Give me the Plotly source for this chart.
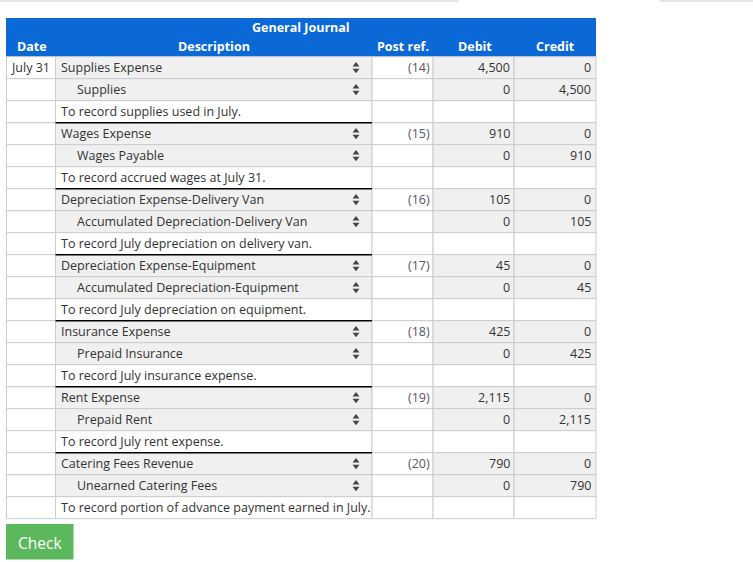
import plotly.graph_objects as go

# ---------------- data ----------------
date_label = "July 31"
debit_accounts = ["Supplies Expense", "Wages Expense", "Depreciation Expense-Delivery Van",
                  "Depreciation Expense-Equipment", "Insurance Expense", "Rent Expense",
                  "Catering Fees Revenue"]
credit_accounts = ["Supplies", "Wages Payable", "Accumulated Depreciation-Delivery Van",
                   "Accumulated Depreciation-Equipment", "Prepaid Insurance", "Prepaid Rent",
                   "Unearned Catering Fees"]
explanations = ["To record supplies used in July.", "To record accrued wages at July 31.",
                "To record July depreciation on delivery van.",
                "To record July depreciation on equipment.",
                "To record July insurance expense.", "To record July rent expense.",
                "To record portion of advance payment earned in July."]
post_refs = ["(14)", "(15)", "(16)", "(17)", "(18)", "(19)", "(20)"]
amounts = [4500, 910, 105, 45, 425, 2115, 790]
header_cols = ["Date", "Description", "Post ref.", "Debit", "Credit"]
title = "General Journal"
button_label = "Check"

# ---------------- layout helpers ----------------
W, H = 753, 562
col_edges = [6.5, 55.5, 372, 433, 514, 596]
header_top, header_bot = 18, 56.7
row_h = 22.0
FONT = "Open Sans, Noto Sans, sans-serif"
FS = 12.5
BLUE = "#0B68D7"
GREY_BG = "#F0F0F0"
BORDER = "#CCCCCC"
TEXT = "#333333"

shapes = []
annotations = []


def rect(x0, y0, x1, y1, fill, line=BORDER, lw=1):
    shapes.append(dict(type="rect", xref="x", yref="y", x0=x0, y0=y0, x1=x1, y1=y1,
                       fillcolor=fill, line=dict(color=line, width=lw), layer="below"))


def text(x, y, s, anchor="left", size=FS, color=TEXT, bold=False):
    annotations.append(dict(x=x, y=y, xref="x", yref="y", text=(f"<b>{s}</b>" if bold else s),
                            showarrow=False, xanchor=anchor, yanchor="middle",
                            font=dict(family=FONT, size=size, color=color)))


# top faint edges of input boxes
shapes.append(dict(type="line", x0=0, x1=459, y0=1, y1=1, line=dict(color="#DDDDDD", width=1.5)))
shapes.append(dict(type="line", x0=660, x1=753, y0=1, y1=1, line=dict(color="#DDDDDD", width=1.5)))

# header
shapes.append(dict(type="rect", x0=col_edges[0] - 0.5, x1=col_edges[-1], y0=header_top, y1=header_bot,
                   fillcolor=BLUE, line=dict(width=0), layer="below"))
text(301, 27, title, "center", bold=True, color="white")
hx = [32, 214, 403, 474.5, 555]
for x, h in zip(hx, header_cols):
    text(x, 46, h, "center", bold=True, color="white")

tri_x = []
tri_up_y = []
tri_dn_y = []

for i in range(len(debit_accounts)):
    for k in range(3):
        r = 3 * i + k
        y0 = header_bot + r * row_h
        y1 = y0 + row_h
        yc = (y0 + y1) / 2
        is_acct = k < 2
        fills = ["white", GREY_BG if is_acct else "white", "white",
                 GREY_BG if is_acct else "white", GREY_BG if is_acct else "white"]
        for c in range(5):
            rect(col_edges[c], y0, col_edges[c + 1], y1, fills[c])
        if r == 0:
            text(51.5, yc, date_label, "right")
        if k == 0:
            text(58.5, yc, debit_accounts[i])
            text(432, yc, post_refs[i], "right", color="#5A5560")
            text(512, yc, f"{amounts[i]:,}", "right")
            text(593, yc, "0", "right")
        elif k == 1:
            text(74.5, yc, credit_accounts[i])
            text(512, yc, "0", "right")
            text(593, yc, f"{amounts[i]:,}", "right")
        else:
            text(58.5, yc, explanations[i])
        if is_acct:
            tri_x.append(356)
            tri_up_y.append(yc - 2.6)
            tri_dn_y.append(yc + 2.6)
    if i > 0:
        yb = header_bot + 3 * i * row_h
        shapes.append(dict(type="line", x0=col_edges[1], x1=col_edges[2], y0=yb, y1=yb,
                           line=dict(color="black", width=1.5), layer="above"))

# check button
shapes.append(dict(type="rect", x0=6, x1=73.5, y0=524, y1=559.5, fillcolor="#5CB85C",
                   line=dict(width=0), layer="below"))
text(39.75, 542.5, button_label, "center", size=15.5, color="white")

fig = go.Figure()
fig.add_trace(go.Scatter(x=tri_x, y=tri_up_y, mode="markers", hoverinfo="skip",
                         marker=dict(symbol="triangle-up", size=6, color="#444444",
                                     line=dict(width=0))))
fig.add_trace(go.Scatter(x=tri_x, y=tri_dn_y, mode="markers", hoverinfo="skip",
                         marker=dict(symbol="triangle-down", size=6, color="#444444",
                                     line=dict(width=0))))

fig.update_layout(
    width=W, height=H, margin=dict(l=0, r=0, t=0, b=0),
    paper_bgcolor="white", plot_bgcolor="white", showlegend=False,
    xaxis=dict(range=[0, W], visible=False, fixedrange=True),
    yaxis=dict(range=[H, 0], visible=False, fixedrange=True),
    shapes=shapes, annotations=annotations,
)
fig.write_html("out.html", config={"displayModeBar": False},
               post_script="document.body.style.margin='0';document.body.style.overflow='hidden';")
